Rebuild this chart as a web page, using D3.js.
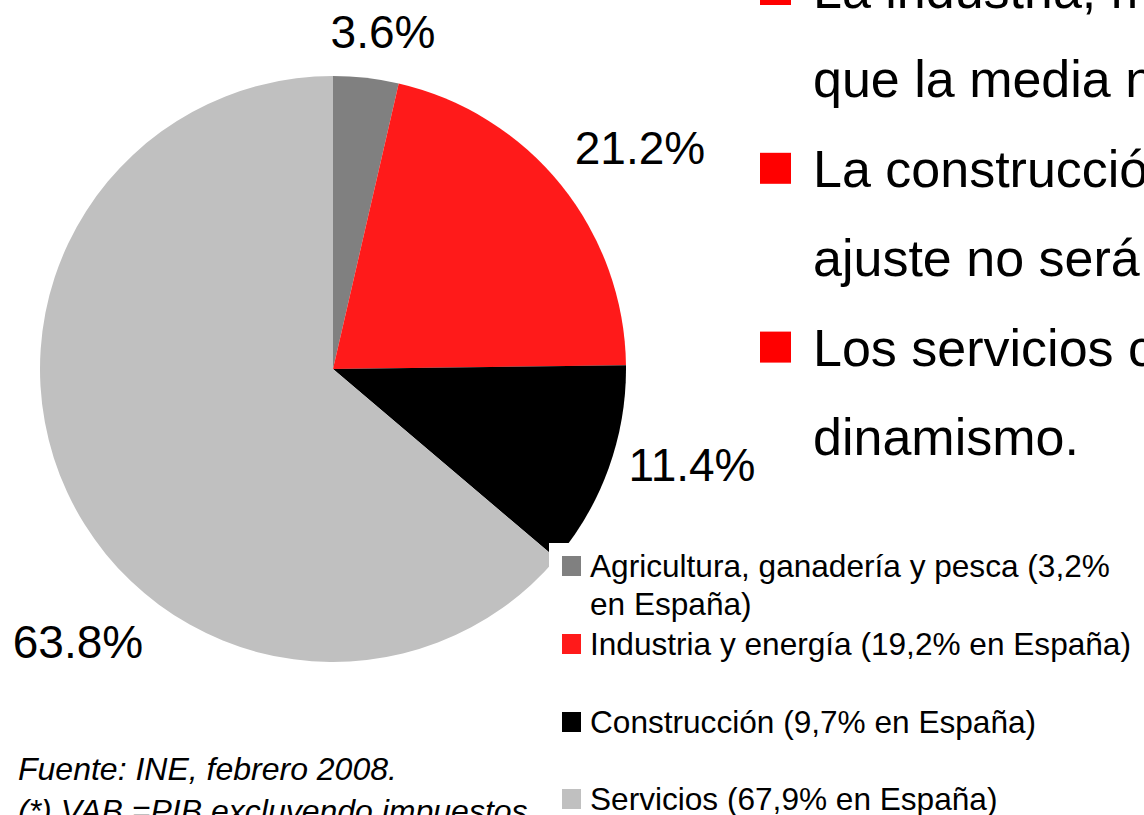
<!DOCTYPE html>
<meta charset="utf-8">
<style>
body { margin: 0; background: #fff; }
svg { display: block; font-family: "Liberation Sans", Arial, sans-serif; }
</style>
<body>
<script src="https://d3js.org/d3.v7.min.js"></script>
<script>

// data
var sectors = ["Agricultura, ganadería y pesca", "Industria y energía", "Construcción", "Servicios"];
var shares = [3.6, 21.2, 11.4, 63.8];
var sharesSpain = ["3,2%", "19,2%", "9,7%", "67,9%"];
var colors = ["#808080", "#ff1a1a", "#000000", "#c0c0c0"];

var bulletLines = [
  "La industria, más competitiva",
  "que la media nacional.",
  "La construcción, cuyo",
  "ajuste no será tan intenso.",
  "Los servicios con",
  "dinamismo."
];
var bulletOn = [true, false, true, false, true, false];

var notes = ["Fuente: INE, febrero 2008.", "(*) VAB =PIB excluyendo impuestos"];

var width = 1144, height = 815;
var cx = 333, cy = 369, radius = 293;

// label anchor points (text centre, baseline)
var labelPos = [[383, 48], [640, 164], [692, 481], [78, 658]];

var svg = d3.select("body").append("svg")
    .attr("width", width)
    .attr("height", height);

// pie
var pie = d3.pie().sort(null).value(function(d) { return d; });
var arc = d3.arc().innerRadius(0).outerRadius(radius);

var g = svg.append("g").attr("transform", "translate(" + cx + "," + cy + ")");
g.selectAll("path")
    .data(pie(shares))
  .enter().append("path")
    .attr("d", arc)
    .attr("fill", function(d, i) { return colors[i]; });

// value labels
svg.selectAll("text.val")
    .data(shares)
  .enter().append("text")
    .attr("class", "val")
    .attr("x", function(d, i) { return labelPos[i][0]; })
    .attr("y", function(d, i) { return labelPos[i][1]; })
    .attr("text-anchor", "middle")
    .style("font-size", "46px")
    .text(function(d) { return d.toFixed(1) + "%"; });

// legend (white box sits over the pie)
var legend = svg.append("g");
legend.append("rect")
    .attr("x", 549).attr("y", 543)
    .attr("width", width - 549).attr("height", height - 543)
    .attr("fill", "#fff");

var legendY = [556, 634, 712, 789];
sectors.forEach(function(s, i) {
  legend.append("rect")
      .attr("x", 562).attr("y", legendY[i])
      .attr("width", 19).attr("height", 20)
      .attr("fill", colors[i]);
  var t = legend.append("text")
      .attr("x", 590).attr("y", legendY[i] + 21)
      .style("font-size", "31.6px");
  if (i === 0) {
    t.append("tspan").text(s + " (" + sharesSpain[i]);
    t.append("tspan").attr("x", 590).attr("dy", 38).text("en España)");
  } else {
    t.text(s + " (" + sharesSpain[i] + " en España)");
  }
});

// bullet text on the right
var bullets = svg.append("g");
bulletLines.forEach(function(line, i) {
  var by = 8 + i * 89.4;
  if (bulletOn[i]) {
    bullets.append("rect")
        .attr("x", 760).attr("y", by - 34)
        .attr("width", 31).attr("height", 31)
        .attr("fill", "#ff0000");
  }
  bullets.append("text")
      .attr("x", 813).attr("y", by)
      .style("font-size", "52px")
      .text(line);
});

// source notes
svg.selectAll("text.note")
    .data(notes)
  .enter().append("text")
    .attr("class", "note")
    .attr("x", 18)
    .attr("y", function(d, i) { return 780 + i * 42; })
    .style("font-size", "32px")
    .style("font-style", "italic")
    .text(function(d) { return d; });

</script>
</body>
